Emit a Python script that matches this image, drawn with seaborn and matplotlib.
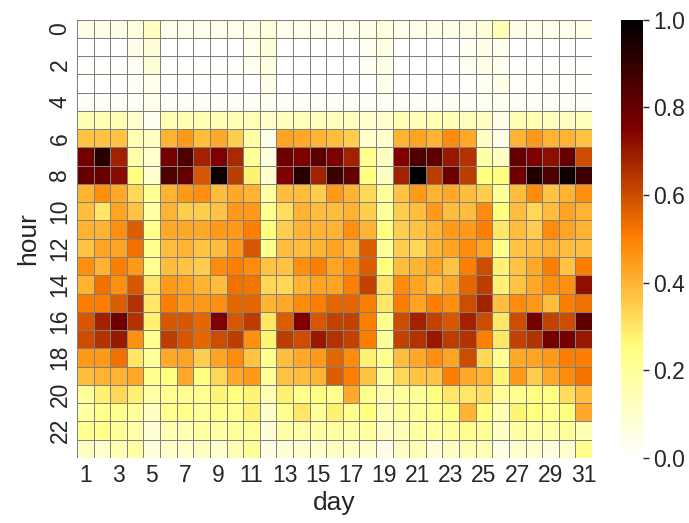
import numpy as np
import pandas as pd
import matplotlib
matplotlib.use("Agg")
import matplotlib.pyplot as plt
import seaborn as sns

sns.set(style="white")
plt.rcParams['font.family'] = ['Liberation Sans', 'DejaVu Sans']

days = list(range(1, 32))
hours = list(range(24))

# share of daily peak, one list per hour of day (days 1..31)
h00 = [.05, .05, .05, .07, .12, .04, .04, .04, .04, .04, .05, .07, .04, .04, .04, .04, .04, .05, .07, .04, .04, .05, .05, .05, .08, .15, .05, .04, .04, .04, .04]
h01 = [0, 0, 0, .05, .08, 0, 0, 0, 0, 0, .04, .08, 0, 0, 0, 0, 0, .03, .06, 0, 0, 0, 0, .02, .05, .04, 0, 0, 0, 0, 0]
h02 = [.01, .01, .01, .03, .08, .01, .01, .01, .01, .01, .03, .06, 0, 0, 0, 0, 0, .02, .05, 0, 0, 0, 0, .03, .05, .03, .01, .01, .01, .01, .01]
h03 = [0, 0, 0, .02, .04, 0, 0, 0, 0, 0, 0, .05, 0, 0, 0, 0, 0, 0, .04, 0, 0, 0, 0, 0, .02, .05, .01, .01, .01, .01, .01]
h04 = [.02, .02, .02, .02, .04, .02, .02, .02, .02, .02, .02, .03, .02, .02, .02, .02, .02, .02, .03, .02, .02, .02, .03, .02, .03, .03, .02, .02, .02, .02, .02]
h05 = [.15, .15, .15, .10, .03, .15, .15, .15, .15, .15, .14, .10, .13, .13, .13, .13, .13, .10, .10, .15, .14, .15, .15, .13, .12, .05, .15, .15, .13, .12, .13]
h06 = [.37, .37, .37, .15, .12, .40, .45, .38, .42, .35, .17, .05, .43, .42, .40, .38, .35, .10, .10, .40, .43, .40, .48, .42, .12, .05, .40, .45, .40, .40, .37]
h07 = [.77, .92, .68, .17, .10, .77, .85, .68, .75, .67, .20, .07, .78, .75, .82, .75, .68, .22, .12, .75, .85, .82, .70, .65, .18, .12, .80, .75, .72, .80, .60]
h08 = [.80, .80, .73, .25, .10, .85, .80, .58, .97, .63, .28, .10, .75, .92, .68, .88, .80, .25, .12, .68, 1.0, .63, .78, .63, .25, .25, .78, .93, .85, .97, .88]
h09 = [.40, .47, .42, .33, .20, .40, .45, .47, .38, .42, .40, .18, .38, .38, .35, .45, .40, .33, .20, .37, .45, .40, .42, .38, .35, .20, .38, .48, .37, .40, .47]
h10 = [.38, .30, .43, .37, .18, .40, .35, .35, .37, .45, .45, .22, .32, .40, .38, .38, .40, .35, .20, .35, .38, .45, .38, .38, .48, .25, .38, .33, .38, .43, .40]
h11 = [.40, .40, .47, .57, .23, .42, .42, .42, .45, .45, .50, .25, .35, .40, .40, .40, .47, .40, .25, .35, .37, .40, .45, .45, .50, .30, .38, .35, .48, .43, .40]
h12 = [.37, .43, .43, .53, .22, .38, .40, .37, .38, .45, .58, .23, .38, .38, .40, .43, .40, .57, .20, .35, .33, .40, .43, .48, .43, .23, .37, .38, .40, .38, .38]
h13 = [.47, .40, .50, .45, .22, .38, .37, .35, .48, .50, .48, .37, .37, .47, .50, .43, .47, .57, .25, .38, .40, .43, .37, .50, .60, .28, .37, .42, .50, .37, .50]
h14 = [.40, .53, .47, .58, .30, .45, .43, .40, .38, .53, .52, .33, .33, .40, .43, .43, .50, .62, .30, .48, .43, .38, .42, .55, .63, .28, .37, .42, .47, .47, .72]
h15 = [.50, .50, .57, .65, .30, .50, .45, .45, .47, .55, .55, .40, .42, .48, .50, .55, .55, .50, .30, .50, .43, .50, .47, .60, .68, .38, .48, .45, .38, .50, .53]
h16 = [.58, .68, .78, .65, .28, .58, .58, .55, .75, .58, .63, .30, .57, .75, .58, .62, .62, .50, .23, .60, .68, .62, .58, .68, .60, .30, .60, .77, .62, .60, .82]
h17 = [.60, .65, .70, .47, .22, .63, .58, .55, .60, .63, .47, .27, .63, .60, .70, .65, .62, .50, .20, .62, .65, .70, .63, .65, .50, .30, .62, .65, .77, .77, .70]
h18 = [.45, .45, .53, .30, .20, .42, .43, .35, .43, .48, .37, .22, .38, .42, .45, .55, .48, .28, .23, .38, .42, .47, .43, .60, .33, .22, .42, .43, .45, .50, .50]
h19 = [.38, .40, .40, .42, .22, .25, .42, .25, .33, .42, .45, .20, .37, .38, .40, .57, .50, .37, .20, .33, .37, .37, .50, .42, .40, .27, .45, .35, .42, .48, .52]
h20 = [.20, .28, .33, .28, .18, .22, .22, .22, .27, .25, .27, .15, .28, .23, .25, .23, .42, .23, .17, .20, .20, .25, .30, .30, .32, .20, .23, .25, .25, .32, .38]
h21 = [.18, .23, .23, .20, .12, .22, .23, .20, .23, .22, .28, .10, .22, .30, .20, .28, .23, .25, .15, .20, .20, .23, .25, .40, .25, .15, .27, .25, .23, .25, .42]
h22 = [.22, .23, .20, .17, .08, .15, .15, .18, .18, .20, .20, .08, .18, .17, .18, .18, .18, .18, .12, .15, .18, .18, .20, .22, .20, .12, .18, .18, .18, .20, .15]
h23 = [.12, .10, .15, .18, .07, .10, .10, .12, .10, .15, .20, .05, .08, .10, .10, .12, .12, .10, .05, .12, .15, .08, .12, .15, .15, .05, .10, .10, .07, .10, .22]

rows = [h00, h01, h02, h03, h04, h05, h06, h07, h08, h09, h10, h11,
        h12, h13, h14, h15, h16, h17, h18, h19, h20, h21, h22, h23]
df = pd.DataFrame(rows, index=hours, columns=days)
df.index.name = 'hour'
df.columns.name = 'day'

fig = plt.figure(figsize=(6.89, 5.23), dpi=100)
ax = fig.add_axes([0.1118, 0.1243, 0.7474, 0.8384])
cax = fig.add_axes([0.9013, 0.1243, 0.0319, 0.8384])

sns.heatmap(df, ax=ax, cbar_ax=cax, cmap='afmhot_r', vmin=0, vmax=1,
            linewidths=0.7, linecolor='gray')

ax.set_xticks(np.arange(0, 31, 2) + 0.5)
ax.set_xticklabels(days[::2], rotation=0)
ax.set_yticks(np.arange(0, 24, 2) + 0.5)
ax.set_yticklabels(hours[::2], rotation=90, va='center')
ax.tick_params(axis='both', length=0, labelsize=16.5, colors='#262626', pad=4)
ax.set_xlabel('day', fontsize=19, color='#262626', labelpad=3)
ax.set_ylabel('hour', fontsize=19, color='#262626', labelpad=6)

cax.tick_params(labelsize=16.5, colors='#262626', length=4, width=1, left=False, right=True)
cax.yaxis.set_ticks([0, 0.2, 0.4, 0.6, 0.8, 1.0])
cax.set_yticklabels(['0.0', '0.2', '0.4', '0.6', '0.8', '1.0'])

fig.savefig('out.png', dpi=100)
